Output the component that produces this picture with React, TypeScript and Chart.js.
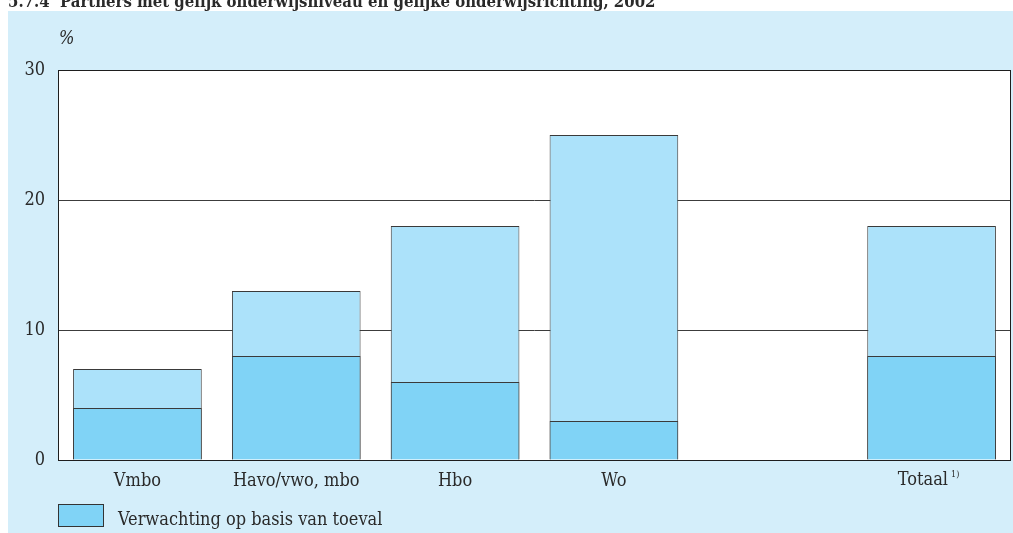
import React, { useEffect, useRef } from "react";
import { Chart, registerables } from "chart.js";

Chart.register(...registerables);

const title = "5.7.4  Partners met gelijk onderwijsniveau en gelijke onderwijsrichting, 2002";
const unitLabel = "%";
const categories = ["Vmbo", "Havo/vwo, mbo", "Hbo", "Wo", "", "Totaal"];
const expectedLabel = "Verwachting op basis van toeval";
const expectedValues = [4, 8, 6, 3, null, 8];
const actualLabel = "Werkelijk";
const actualValues = [7, 13, 18, 25, null, 18];
const yTicks = [0, 10, 20, 30];
const footnoteMark = "1)";

const FONT = '"DejaVu Serif Condensed", "DejaVu Serif", serif';
const DARK = "#80d3f6";
const LIGHT = "#ace2fa";
const PANEL = "#d4eefa";
const INK = "#2a2a2a";

const decorPlugin = {
  id: "decor",
  beforeDraw(chart: any) {
    const { ctx, chartArea: a, width, height } = chart;
    ctx.save();
    ctx.fillStyle = "#ffffff";
    ctx.fillRect(0, 0, width, height);
    ctx.fillStyle = PANEL;
    ctx.fillRect(8, 11, width - 8, height - 11);
    ctx.fillStyle = "#ffffff";
    ctx.fillRect(a.left, a.top, a.right - a.left, a.bottom - a.top);
    ctx.restore();
  },
  afterDraw(chart: any) {
    const { ctx, chartArea: a } = chart;
    ctx.save();
    // plot frame
    ctx.strokeStyle = "#1e1e1e";
    ctx.lineWidth = 1;
    ctx.strokeRect(a.left + 0.5, a.top + 0.5, a.right - a.left - 1, a.bottom - a.top);
    ctx.fillStyle = INK;
    // title (cut off at the top as in the source)
    ctx.font = `bold 16.6px ${FONT}`;
    ctx.textBaseline = "alphabetic";
    ctx.textAlign = "left";
    ctx.fillText(title, 8, 7);
    // unit
    ctx.font = `italic 18px ${FONT}`;
    ctx.fillText(unitLabel, 59, 44);
    // footnote mark for Totaal
    const xs = chart.scales.x;
    const idx = categories.indexOf("Totaal");
    const cx = xs.getPixelForValue(idx);
    ctx.font = `18px ${FONT}`;
    const w1 = ctx.measureText("Totaal").width;
    ctx.font = `9px ${FONT}`;
    const w2 = ctx.measureText(footnoteMark).width;
    const start = cx - (w1 + 3 + w2) / 2 - 3;
    ctx.font = `18px ${FONT}`;
    ctx.fillText("Totaal", start, 485);
    ctx.font = `9px ${FONT}`;
    ctx.fillText(footnoteMark, start + w1 + 3, 477);
    // legend
    ctx.fillStyle = DARK;
    ctx.fillRect(58, 504, 45, 22);
    ctx.strokeStyle = "#333";
    ctx.strokeRect(58.5, 504.5, 45, 22);
    ctx.fillStyle = INK;
    ctx.font = `18px ${FONT}`;
    ctx.fillText(expectedLabel, 118, 525);
    ctx.restore();
  },
};

export default function App() {
  const ref = useRef<HTMLCanvasElement>(null);
  useEffect(() => {
    const chart = new Chart(ref.current!, {
      type: "bar",
      data: {
        labels: categories,
        datasets: [
          {
            label: expectedLabel,
            data: expectedValues,
            backgroundColor: DARK,
            borderColor: "#3a3a3a",
            borderWidth: 1,
            barPercentage: 0.81,
            categoryPercentage: 1,
          },
          {
            label: actualLabel,
            data: actualValues,
            backgroundColor: LIGHT,
            borderColor: "#3a3a3a",
            borderWidth: 1,
            barPercentage: 0.81,
            categoryPercentage: 1,
          },
        ],
      },
      options: {
        animation: false,
        responsive: false,
        maintainAspectRatio: false,
        layout: { padding: { left: 0, top: 70, right: 2, bottom: 0 } },
        plugins: { legend: { display: false }, tooltip: { enabled: false }, title: { display: false } },
        scales: {
          x: {
            stacked: true,
            grid: { display: false, drawTicks: false },
            border: { display: false },
            ticks: {
              color: INK,
              font: { family: FONT, size: 18 },
              padding: 11,
              maxRotation: 0,
              autoSkip: false,
              callback: (v: any, i: number) => (categories[i] === "Totaal" ? "" : categories[i]),
            },
            afterFit: (s: any) => {
              s.height = 73;
            },
          },
          y: {
            stacked: false,
            min: 0,
            max: 30,
            afterBuildTicks: (s: any) => {
              s.ticks = yTicks.map((v) => ({ value: v }));
            },
            grid: { color: "#3c3c3c", lineWidth: 1, drawTicks: false },
            border: { display: false },
            ticks: { color: INK, font: { family: FONT, size: 18 }, padding: 13 },
            afterFit: (s: any) => {
              s.width = 58;
            },
          },
        },
      },
      plugins: [decorPlugin],
    });
    return () => chart.destroy();
  }, []);
  return (
    <div style={{ position: "fixed", left: 0, top: 0, width: 1013, height: 533 }}>
      <canvas ref={ref} width={1013} height={533} style={{ display: "block" }} />
    </div>
  );
}
